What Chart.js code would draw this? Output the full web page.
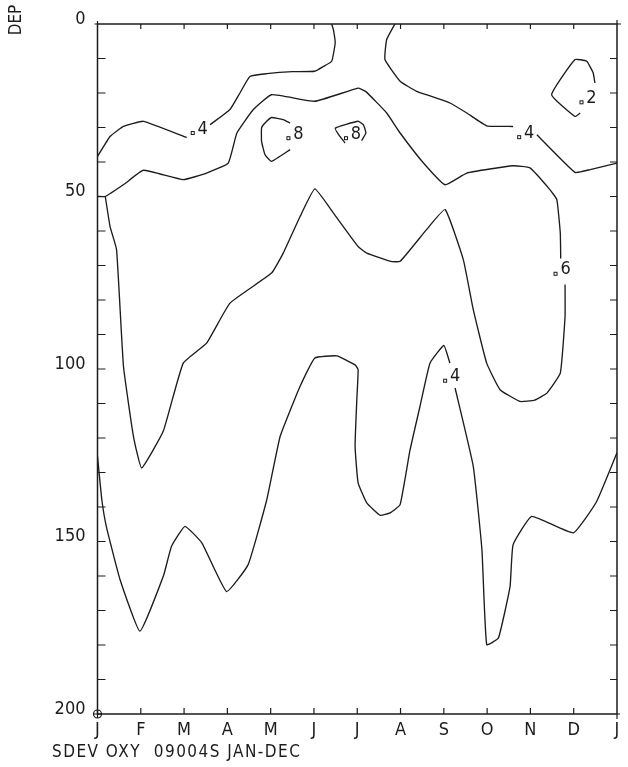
<!DOCTYPE html>
<html><head><meta charset="utf-8">
<script src="https://cdn.jsdelivr.net/npm/chart.js@4.4.0/dist/chart.umd.min.js"></script>
<style>html,body{margin:0;padding:0;background:#fff;}#wrap{width:628px;height:767px;position:relative;}</style>
</head><body><div id="wrap"><canvas id="c"></canvas></div>
<script>
// ---- tick labels / categories ----
const monthLabels = ['J','F','M','A','M','J','J','A','S','O','N','D','J'];
const depthTickValues = [0, 50, 100, 150, 200];
const minorDepthTicks = [10,20,30,40,60,70,80,90,110,120,130,140,160,170,180,190];
const yTitle = 'DEP';
const footerText = 'SDEV OXY  09004S JAN-DEC';

// ---- contour 0.4 (upper) : month position, depth (null = gap) ----
const c4TopMonth = [0, 0.29, 0.6, 1.06, 2.06, 2.3, 2.6, 3.06, 3.29, 3.52, 3.91, 4.5, 5.02, 5.22, 5.41, 5.49, 5.45, 5.41, 6.1, 6.87, 6.68, 6.64, 6.99, 7.37, 7.6, 8.14, 8.53, 8.99, 9.6, 9.9, 10.15, 11.03, 11.38, 12];
const c4TopDepth = [38.4, 32.6, 29.7, 28.2, 32.9, null, 29.2, 24.8, 20, 15.2, 14.4, 13.8, 13.7, 12.3, 10.8, 5.5, 1.7, 0, null, 0, 4.5, 10.3, 16.6, 19.5, 20.5, 22.9, 25.8, 29.5, 29.7, null, 32.1, 43, 42.2, 40.3];

// ---- contour 0.8 (May) ----
const c8MayMonth = [4.45, 4.29, 4.02, 3.87, 3.79, 3.79, 3.87, 4.02, 4.45];
const c8MayDepth = [28.7, 27.7, 27.1, 28.7, 30.1, 34, 37.9, 39.8, 36.4];

// ---- contour 0.8 (July) ----
const c8JulMonth = [6.1, 6.2, 6.14, 6.02, 5.49, 5.6, 5.72];
const c8JulDepth = [33.8, 31.6, 29.2, 28.2, 30.2, 32.6, 34.5];

// ---- contour 0.6 ----
const c6Month = [0, 0.18, 0.63, 1.06, 1.98, 2.52, 3.02, 3.22, 3.6, 4.02, 5.02, 6.02, 6.2, 6.68, 6.99, 7.53, 8.03, 8.53, 9.6, 9.99, 10.45, 10.61, 10.69, 10.7, 10.75, 10.8, 10.8, 10.69, 10.38, 10.1, 9.76, 9.3, 8.99, 8.68, 8.45, 8.03, 7.6, 6.99, 6.77, 6.22, 6.02, 5.45, 5.02, 4.68, 4.29, 4.02, 3.06, 2.52, 1.98, 1.52, 1.02, 0.83, 0.6, 0.44, 0.29, 0.18];
const c6Depth = [50, 50, 46.3, 42.4, 45.1, 43.2, 40.3, 31.6, 24.8, 20.5, 22.4, 18.6, 19.6, 25.8, 31.6, 40.3, 46.6, 43.2, 41.1, 41.7, 48, 50.9, 60.6, 68, null, 75.5, 84.8, 101.2, 107, 109, 109.4, 106, 98.3, 82.8, 68.3, 53.8, 59.6, 68.8, 68.8, 66.4, 64.5, 54.8, 47.8, 55.8, 66.4, 72.2, 80.9, 92.5, 98.3, 118, 128.7, 119.5, 99.2, 65.4, 58.7, 50];

// ---- contour 0.4 (lower) ----
const c4BotMonth = [0, 0.1, 0.21, 0.52, 0.98, 1.52, 1.71, 2.02, 2.41, 2.98, 3.48, 3.91, 4.22, 4.68, 5.02, 5.53, 5.95, 6.02, 5.99, 5.95, 6.02, 6.22, 6.53, 6.76, 6.99, 7.22, 7.45, 7.68, 8.0, 8.14, 8.2, 8.26, 8.68, 8.88, 8.99, 9.26, 9.53, 9.6, 10.03, 10.99, 11.53, 12];
const c4BotDepth = [125.3, 137.9, 146, 161, 176, 160.1, 151.4, 145.6, 150.4, 164.5, 156.7, 137.9, 119.5, 105, 96.8, 96.2, 98.8, 100.2, 108.9, 122.4, 133, 138.8, 142.4, 141.7, 139.3, 123.4, 110.8, 98.3, 93.2, 98.3, null, 105.5, 128.2, 152.4, 179.9, 178, 163, 150.9, 142.7, 147.5, 138.4, 124.3];

// ---- contour 0.2 (December) ----
const c2Month = [11.49, 11.45, 11.3, 11.03, 10.49, 11.03, 11.15];
const c2Depth = [17.1, 14.2, 10.8, 10.3, 20.5, 26.8, 25.8];

// ---- contour labels ----
const labelMonth = [2.2, 4.41, 5.74, 9.74, 11.18, 10.58, 8.03];
const labelDepth = [31.6, 33.1, 33.1, 32.8, 22.7, 72.4, 103.4];
const labelText = ['4', '8', '8', '4', '2', '6', '4'];

const INK = '#1c1c1c';
const FONT = "'DejaVu Sans Condensed', 'DejaVu Sans', sans-serif";

function zip(xs, ys) { return xs.map((x, i) => ({ x: x, y: ys[i] })); }
function contour(xs, ys) {
  return { data: zip(xs, ys), showLine: true, borderColor: INK, borderWidth: 1.35,
    pointRadius: 0, tension: 0.12, spanGaps: false, fill: false };
}

const decorPlugin = {
  id: 'decor',
  afterDatasetsDraw(chart) {
    const ctx = chart.ctx, x = chart.scales.x, y = chart.scales.y;
    const L = x.getPixelForValue(0), R = x.getPixelForValue(12);
    const T = y.getPixelForValue(0), B = y.getPixelForValue(200);
    ctx.save();
    ctx.strokeStyle = INK; ctx.lineWidth = 1.5; ctx.lineCap = 'butt';
    ctx.beginPath();
    ctx.moveTo(L, T); ctx.lineTo(R, T); ctx.lineTo(R, B); ctx.lineTo(L, B); ctx.closePath();
    ctx.stroke();
    ctx.lineWidth = 1.2;
    ctx.beginPath();
    for (const d of minorDepthTicks.concat([50, 100, 150])) {
      const py = y.getPixelForValue(d);
      ctx.moveTo(L, py); ctx.lineTo(L + 8, py);
      ctx.moveTo(R, py); ctx.lineTo(R - 7, py);
    }
    for (let m = 1; m < monthLabels.length - 1; m++) {
      const px = x.getPixelForValue(m);
      ctx.moveTo(px, T); ctx.lineTo(px, T + 5);
      ctx.moveTo(px, B); ctx.lineTo(px, B - 6);
    }
    ctx.moveTo(L - 3, T); ctx.lineTo(L, T); ctx.moveTo(L, T - 3); ctx.lineTo(L, T);
    ctx.moveTo(R, T); ctx.lineTo(R + 4, T); ctx.moveTo(R, T - 4); ctx.lineTo(R, T);
    ctx.moveTo(R, B); ctx.lineTo(R + 3, B); ctx.moveTo(R, B); ctx.lineTo(R, B + 5);
    ctx.stroke();
    ctx.beginPath(); ctx.arc(L, B, 4, 0, Math.PI * 2);
    ctx.moveTo(L - 4, B); ctx.lineTo(L + 4, B); ctx.moveTo(L, B - 4); ctx.lineTo(L, B + 4);
    ctx.stroke();

    // contour labels
    ctx.fillStyle = INK; ctx.lineWidth = 1;
    ctx.font = '18px ' + FONT; ctx.textAlign = 'center'; ctx.textBaseline = 'middle';
    for (let i = 0; i < labelText.length; i++) {
      const px = x.getPixelForValue(labelMonth[i]), py = y.getPixelForValue(labelDepth[i]);
      ctx.strokeRect(px - 1.5, py - 1.5, 3, 3);
      ctx.fillText(labelText[i], px + 10, py - 4);
    }
    // y title (rotated)
    ctx.save();
    ctx.translate(17, 20); ctx.rotate(-Math.PI / 2);
    ctx.font = '17px ' + FONT; ctx.textAlign = 'center'; ctx.textBaseline = 'middle';
    ctx.fillText(yTitle, 0, 0);
    ctx.restore();
    // footer, spread to the plotter's fixed character pitch
    ctx.font = '17px ' + FONT; ctx.textAlign = 'left'; ctx.textBaseline = 'middle';
    const w = ctx.measureText(footerText).width;
    const sp = Math.max(0, (248 - w) / (footerText.length - 1));
    try { ctx.letterSpacing = sp.toFixed(2) + 'px'; } catch (e) {}
    ctx.fillText(footerText, 52, 753);
    ctx.restore();
  }
};

new Chart(document.getElementById('c'), {
  type: 'scatter',
  data: { datasets: [
    contour(c4TopMonth, c4TopDepth),
    contour(c8MayMonth, c8MayDepth),
    contour(c8JulMonth, c8JulDepth),
    contour(c6Month, c6Depth),
    contour(c4BotMonth, c4BotDepth),
    contour(c2Month, c2Depth)
  ]},
  options: {
    responsive: true, maintainAspectRatio: false, animation: false,
    layout: { padding: { left: 0, right: 11, top: 24, bottom: 23 } },
    plugins: { legend: { display: false }, tooltip: { enabled: false }, title: { display: false } },
    scales: {
      x: {
        type: 'linear', min: 0, max: 12,
        grid: { display: false, drawTicks: false }, border: { display: false },
        afterBuildTicks: (s) => { s.ticks = monthLabels.map((_, i) => ({ value: i })); },
        afterFit: (s) => { s.height = 30; },
        ticks: { autoSkip: false, maxRotation: 0, padding: 6, color: INK,
          font: { family: FONT, size: 18 },
          callback: (v) => monthLabels[v] }
      },
      y: {
        type: 'linear', min: 0, max: 200, reverse: true,
        grid: { display: false, drawTicks: false }, border: { display: false },
        afterBuildTicks: (s) => { s.ticks = depthTickValues.map(v => ({ value: v })); },
        afterFit: (s) => { s.width = 97.5; },
        ticks: { padding: 12, labelOffset: -5, color: INK,
          font: { family: FONT, size: 18 },
          callback: (v) => String(v) }
      }
    }
  },
  plugins: [decorPlugin]
});
</script>
</body></html>
